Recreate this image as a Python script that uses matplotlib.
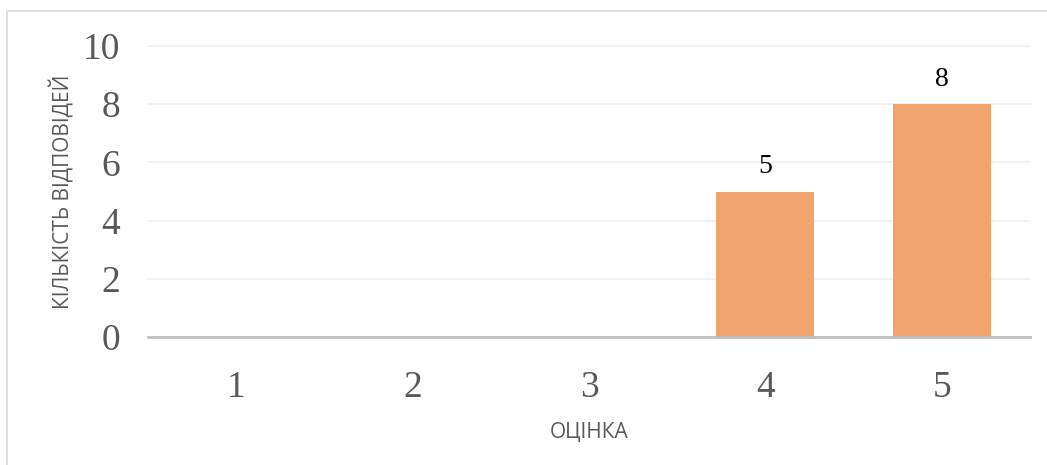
import matplotlib
matplotlib.use("Agg")
import matplotlib.pyplot as plt
from matplotlib.patches import Rectangle

categories = ["1", "2", "3", "4", "5"]
values = [0, 0, 0, 5, 8]
yticks = [0, 2, 4, 6, 8, 10]

fig = plt.figure(figsize=(10.47, 4.65), dpi=100)
fig.patches.append(Rectangle((7/1047, -0.05), 1.1, 1 - 11/465 + 0.05, transform=fig.transFigure,
                             fill=False, edgecolor="#d9d9d9", linewidth=1.2))
ax = fig.add_axes([148/1047, 128/465, 882/1047, 291/465])

x = list(range(len(categories)))
bars = ax.bar(x, values, width=0.556, color="#f0a36c", zorder=2)
for xi, v in zip(x, values):
    if v > 0:
        ax.text(xi, v + 0.42, str(v), ha="center", va="bottom", fontsize=20,
                family="Liberation Serif", color="black")

ax.set_xlim(-0.5, len(categories) - 0.5)
ax.set_ylim(0, 10)
ax.set_yticks(yticks)
ax.set_yticklabels([str(t) for t in yticks])
ax.set_xticks(x)
ax.set_xticklabels(categories)
for lab in ax.get_xticklabels() + ax.get_yticklabels():
    lab.set_family("Liberation Serif")
    lab.set_fontsize(27)
    lab.set_color("#595959")
ax.tick_params(axis="both", length=0)
ax.tick_params(axis="y", pad=20)
ax.tick_params(axis="x", pad=24)
for t in yticks[1:]:
    ax.axhline(t, color="#efefef", linewidth=1.2, zorder=1, clip_on=False)
ax.axhline(0, color="#bfbfbf", linewidth=2, zorder=3, clip_on=False)
for s in ax.spines.values():
    s.set_visible(False)

ax.set_ylabel("КІЛЬКІСТЬ ВІДПОВІДЕЙ", family="Open Sans", fontsize=15, color="#595959", labelpad=6)
ax.set_xlabel("ОЦІНКА", family="Open Sans", fontsize=15, color="#595959", labelpad=12)

fig.savefig("out.png", dpi=100)
